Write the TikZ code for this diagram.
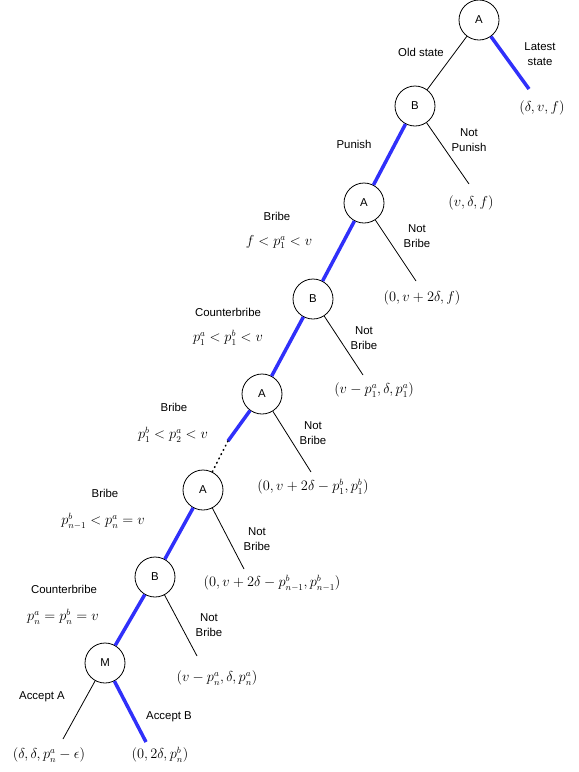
\documentclass[tikz,border=0pt]{standalone}
\usepackage{fontspec}
\newfontfamily\labelfont{Liberation Sans}
\definecolor{pathblue}{RGB}{48,48,250}

\begin{document}
\begin{tikzpicture}[
  x=1pt, y=-1pt,          % 1px = 1pt, y goes down
  player/.style={draw, circle, minimum size=40pt, inner sep=0pt, line width=0.8pt,
                 font=\labelfont\fontsize{11.4}{14}\selectfont},
  payoff/.style={inner sep=0pt, font=\fontsize{13.5}{16}\selectfont},
  lbl/.style={align=center, inner sep=0pt, font=\labelfont\fontsize{11.4}{15}\selectfont},
  cond/.style={inner sep=0pt, font=\fontsize{13.5}{16}\selectfont},
  move/.style={line width=0.8pt},
  best/.style={line width=3.5pt, draw=pathblue}
  ]
  \useasboundingbox (0,0) rectangle (579,772);

  % --- players ---
  \node [player] (a1) at (479,20)  {A};
  \node [player] (b1) at (415,106) {B};
  \node [player] (a2) at (364,203) {A};
  \node [player] (b2) at (313,299) {B};
  \node [player] (a3) at (262,394) {A};
  \node [player] (a4) at (203,490) {A};
  \node [player] (b3) at (155,577) {B};
  \node [player] (m)  at (105,663) {M};

  % --- ends of the moves ---
  \coordinate (e1) at (529,89);
  \coordinate (e2) at (469,184);
  \coordinate (e3) at (416,281);
  \coordinate (e4) at (363,375);
  \coordinate (e5) at (311,472);
  \coordinate (e6) at (244,569);
  \coordinate (e7) at (197,656);
  \coordinate (e8) at (63,739);
  \coordinate (e9) at (146,742);
  \coordinate (gap) at (228,441);

  % --- payoffs ---
  \node [payoff] (p1) at (542,108) {$(\delta, v, f)$};
  \node [payoff] (p2) at (471,203) {$(v, \delta, f)$};
  \node [payoff] (p3) at (422,298) {$(0, v+2\delta, f)$};
  \node [payoff] (p4) at (374,390) {$(v-p_1^a, \delta, p_1^a)$};
  \node [payoff] (p5) at (313,487) {$(0, v+2\delta-p_1^b, p_1^b)$};
  \node [payoff] (p6) at (272,583) {$(0, v+2\delta-p_{n-1}^b, p_{n-1}^b)$};
  \node [payoff] (p7) at (217,678) {$(v-p_n^a, \delta, p_n^a)$};
  \node [payoff] (p8) at (49,755)  {$(\delta, \delta, p_n^a-\epsilon)$};
  \node [payoff] (p9) at (160,755) {$(0, 2\delta, p_n^b)$};

  % --- moves ---
  \draw [move] (a1) -- (b1);
  \draw [best] (a1) -- (e1);
  \draw [best] (b1) -- (a2);
  \draw [move] (b1) -- (e2);
  \draw [best] (a2) -- (b2);
  \draw [move] (a2) -- (e3);
  \draw [best] (b2) -- (a3);
  \draw [move] (b2) -- (e4);
  \draw [best] (a3) -- (gap);
  \draw [move, loosely dotted, line width=1.6pt, line cap=round] (gap) -- (a4);
  \draw [move] (a3) -- (e5);
  \draw [best] (a4) -- (b3);
  \draw [move] (a4) -- (e6);
  \draw [best] (b3) -- (m);
  \draw [move] (b3) -- (e7);
  \draw [move] (m) -- (e8);
  \draw [best] (m) -- (e9);

  % --- labels ---
  \node [lbl] (l1)  at (421,52)  {Old state};
  \node [lbl] (l2)  at (540,54)  {Latest\\state};
  \node [lbl] (l3)  at (354,144) {Punish};
  \node [lbl] (l4)  at (469,140) {Not\\Punish};
  \node [lbl] (l5)  at (277,216) {Bribe};
  \node [cond] (c5) at (279,242) {$f < p_1^a < v$};
  \node [lbl] (l6)  at (417,236) {Not\\Bribe};
  \node [lbl] (l7)  at (228,312) {Counterbribe};
  \node [cond] (c7) at (228,338) {$p_1^a < p_1^b < v$};
  \node [lbl] (l8)  at (364,338) {Not\\Bribe};
  \node [lbl] (l9)  at (174,407) {Bribe};
  \node [cond] (c9) at (173,435) {$p_1^b < p_2^a < v$};
  \node [lbl] (l10) at (313,433) {Not\\Bribe};
  \node [lbl] (l11) at (105,493) {Bribe};
  \node [cond] (c11) at (103,521) {$p_{n-1}^b < p_n^a = v$};
  \node [lbl] (l12) at (257,539) {Not\\Bribe};
  \node [lbl] (l13) at (64,589)  {Counterbribe};
  \node [cond] (c13) at (63,617) {$p_n^a = p_n^b = v$};
  \node [lbl] (l14) at (209,625) {Not\\Bribe};
  \node [lbl] (l15) at (42,697)  {Accept A};
  \node [lbl] (l16) at (169,717) {Accept B};

\end{tikzpicture}
\end{document}
